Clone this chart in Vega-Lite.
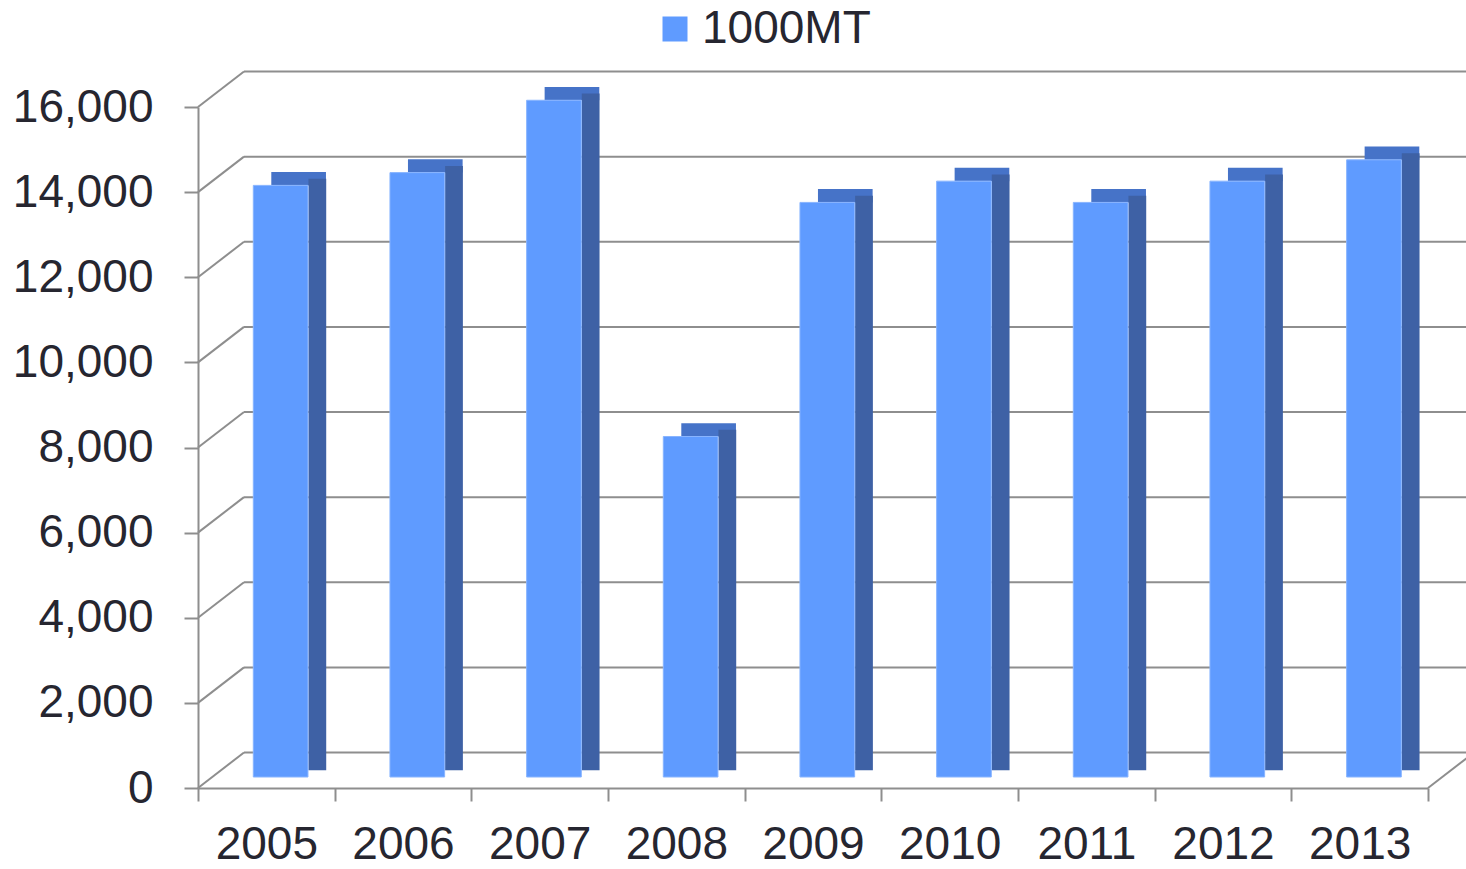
{
  "$schema": "https://vega.github.io/schema/vega-lite/v6.json",
  "width": 1230,
  "height": 681,
  "autosize": {"type": "none"},
  "padding": {"left": 198, "top": 107, "right": 38, "bottom": 81},
  "background": "white",
  "config": {"view": {"stroke": null}, "font": "Liberation Sans"},
  "resolve": {"axis": {"x": "independent", "y": "independent"}},
  "datasets": {
    "bars": [
      {"year": "2005", "value": 13900, "series": "1000MT"},
      {"year": "2006", "value": 14200, "series": "1000MT"},
      {"year": "2007", "value": 15900, "series": "1000MT"},
      {"year": "2008", "value": 8000, "series": "1000MT"},
      {"year": "2009", "value": 13500, "series": "1000MT"},
      {"year": "2010", "value": 14000, "series": "1000MT"},
      {"year": "2011", "value": 13500, "series": "1000MT"},
      {"year": "2012", "value": 14000, "series": "1000MT"},
      {"year": "2013", "value": 14500, "series": "1000MT"}
    ],
    "grid": [
      {"v": 0}, {"v": 2000}, {"v": 4000}, {"v": 6000}, {"v": 8000},
      {"v": 10000}, {"v": 12000}, {"v": 14000}, {"v": 16000}
    ]
  },
  "layer": [
    {
      "data": {"name": "grid"},
      "mark": {"type": "rule", "color": "#8E8E8E", "strokeWidth": 2, "yOffset": -35.5, "y2Offset": -35.5, "xOffset": 46, "x2Offset": 46},
      "encoding": {
        "x": {"datum": "2005", "bandPosition": 0, "type": "nominal", "axis": null},
        "x2": {"datum": "2013", "bandPosition": 1},
        "y": {"field": "v", "type": "quantitative", "axis": null},
        "y2": {"field": "v"}
      }
    },
    {
      "data": {"name": "grid"},
      "mark": {"type": "rule", "color": "#8E8E8E", "strokeWidth": 2, "x2Offset": 46, "y2Offset": -35.5},
      "encoding": {
        "x": {"datum": "2005", "bandPosition": 0, "type": "nominal", "axis": null},
        "x2": {"datum": "2005", "bandPosition": 0},
        "y": {"field": "v", "type": "quantitative", "axis": null},
        "y2": {"field": "v"}
      }
    },
    {
      "data": {"values": [{"v": 0}]},
      "mark": {"type": "rule", "color": "#8E8E8E", "strokeWidth": 2, "x2Offset": 46, "y2Offset": -35.5},
      "encoding": {
        "x": {"datum": "2013", "bandPosition": 1, "type": "nominal", "axis": null},
        "x2": {"datum": "2013", "bandPosition": 1},
        "y": {"field": "v", "type": "quantitative", "axis": null},
        "y2": {"field": "v"}
      }
    },
    {
      "data": {"name": "bars"},
      "mark": {"type": "bar", "width": {"band": 0.4}, "color": "#4673C8", "xOffset": 32.3, "yOffset": -24.3, "y2Offset": -11},
      "encoding": {
        "x": {"field": "year", "type": "nominal", "axis": null},
        "y": {"field": "value", "type": "quantitative", "axis": null},
        "y2": {"field": "value"}
      }
    },
    {
      "data": {"name": "bars"},
      "mark": {"type": "bar", "width": {"band": 0.13}, "color": "#3E61A5", "xOffset": 51, "yOffset": -17.7, "y2Offset": -17.7},
      "encoding": {
        "x": {"field": "year", "type": "nominal", "axis": null},
        "y": {"field": "value", "type": "quantitative", "axis": null}
      }
    },
    {
      "data": {"name": "bars"},
      "mark": {"type": "bar", "width": {"band": 0.4}, "xOffset": 14.3, "yOffset": -11, "y2Offset": -11, "stroke": "#88B4FF", "strokeWidth": 1},
      "encoding": {
        "x": {
          "field": "year",
          "type": "nominal",
          "scale": {"domain": ["2005", "2006", "2007", "2008", "2009", "2010", "2011", "2012", "2013"], "paddingInner": 0, "paddingOuter": 0},
          "axis": {
            "title": null,
            "labelAngle": 0,
            "labelFontSize": 46,
            "labelColor": "#262630",
            "labelPadding": 21,
            "labelOverlap": false,
            "tickBand": "extent",
            "tickSize": 13,
            "tickColor": "#8E8E8E",
            "tickWidth": 2,
            "domainColor": "#8E8E8E",
            "domainWidth": 2,
            "grid": false
          }
        },
        "y": {
          "field": "value",
          "type": "quantitative",
          "scale": {"domain": [0, 16000], "nice": false},
          "axis": {
            "title": null,
            "values": [0, 2000, 4000, 6000, 8000, 10000, 12000, 14000, 16000],
            "labelExpr": "format(datum.value, ',')",
            "labelFontSize": 46,
            "labelColor": "#262630",
            "labelPadding": 31,
            "labelOverlap": false,
            "tickSize": 14,
            "tickColor": "#8E8E8E",
            "tickWidth": 2,
            "domainColor": "#8E8E8E",
            "domainWidth": 2,
            "grid": false
          }
        },
        "color": {
          "field": "series",
          "type": "nominal",
          "scale": {"range": ["#5F9BFF"]},
          "legend": {
            "title": null,
            "orient": "none",
            "legendX": 454,
            "legendY": -101,
            "padding": 0,
            "symbolType": "square",
            "symbolSize": 625,
            "symbolStrokeWidth": 0,
            "labelFontSize": 46,
            "labelLimit": 0,
            "labelColor": "#262630",
            "labelOffset": 4
          }
        }
      }
    }
  ]
}
